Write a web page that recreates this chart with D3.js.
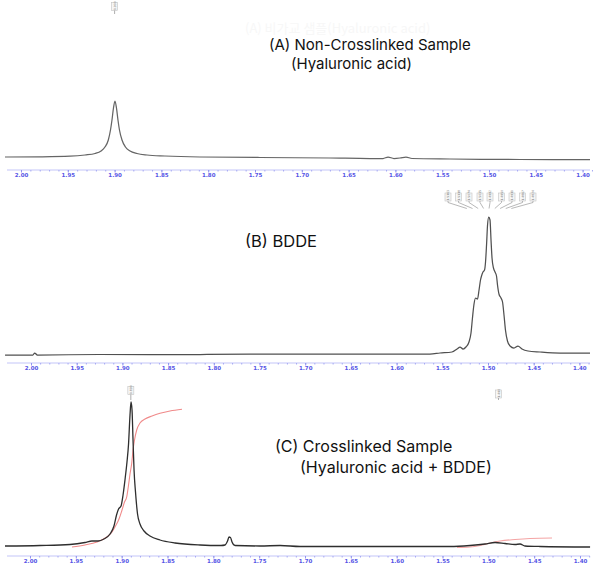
<!DOCTYPE html>
<html>
<head>
<meta charset="utf-8">
<script src="https://cdn.jsdelivr.net/npm/d3@7"></script>
<style>
body { margin:0; background:#fff; }
svg { display:block; }
.title { font-family: Inter, "Noto Sans", sans-serif; fill:#111; }
.ghost { font-family: "Noto Sans CJK KR", Inter, sans-serif; font-size:13px; fill:#f7f7f7; }
.tick-label { font-family: "DejaVu Sans", sans-serif; font-size:5.5px; font-weight:bold; fill:#5555e6; }
.peak-text { font-family: "DejaVu Sans", sans-serif; font-size:3px; fill:#777; }
</style>
</head>
<body>
<script>
// chemical shift ticks (ppm)
var majorTicks = [2.00, 1.95, 1.90, 1.85, 1.80, 1.75, 1.70, 1.65, 1.60, 1.55, 1.50, 1.45, 1.40];
var minorTicks = [];
for (var t = 200; t >= 139; t--) { minorTicks.push(t / 100); }

// (A) hyaluronic acid : [ppm, intensity]
var spectrumA = [
	[2.0171,3],[1.9797,3.2],[1.9476,3.8],[1.9316,5],[1.9209,6.5],[1.9145,9],[1.9103,13],
	[1.9067,20],[1.9044,30],[1.9028,40],[1.9012,52],[1.8996,59],[1.8980,52],[1.8964,40],
	[1.8948,30],[1.8921,20],[1.8884,13],[1.8835,9],[1.8761,6.5],[1.8654,5],[1.8462,4],
	[1.8088,3],[1.7447,2.5],[1.6699,2],[1.6271,1.5],[1.6132,1.5],[1.6079,3],[1.6015,1.5],
	[1.5951,2],[1.5887,3],[1.5823,1.5],[1.5417,1],[1.4669,0.5],[1.3921,0.3]
];

// (B) BDDE
var spectrumB = [
	[2.0284,1],[1.9980,1],[1.9960,3],[1.9930,1],[1.9250,1.5],[1.8150,1.5],[1.7060,2],
	[1.5960,2],[1.5635,2],[1.5525,3],[1.5394,4],[1.5339,7],[1.5306,9],[1.5273,7],
	[1.5241,9],[1.5208,14],[1.5186,23],[1.5170,38],[1.5153,52],[1.5137,58],[1.5115,57],
	[1.5098,66],[1.5082,76],[1.5071,80],[1.5055,84],[1.5038,86],[1.5027,94],[1.5016,111],
	[1.5005,131],[1.4992,139],[1.4978,136],[1.4967,116],[1.4956,98],[1.4940,88],[1.4923,84],
	[1.4907,80],[1.4896,71],[1.4880,62],[1.4858,58],[1.4841,54],[1.4825,41],[1.4809,26],
	[1.4787,15],[1.4759,10],[1.4716,8],[1.4672,10],[1.4628,7],[1.4562,5],[1.4431,4],
	[1.4212,3],[1.3884,3]
];

// (C) crosslinked sample
var spectrumC = [
	[2.0273,2],[1.9891,2.5],[1.9564,3.5],[1.9400,5.5],[1.9324,7],[1.9258,7],[1.9193,9],
	[1.9127,14],[1.9084,22],[1.9056,33],[1.9034,39],[1.9007,42],[1.8985,53],[1.8964,68],
	[1.8942,86],[1.8925,104],[1.8909,133],[1.8898,146],[1.8887,138],[1.8876,108],[1.8865,78],
	[1.8849,56],[1.8827,34],[1.8800,24],[1.8756,17],[1.8691,12],[1.8582,8],[1.8418,5],
	[1.8145,3],[1.7916,2.5],[1.7873,3],[1.7845,7],[1.7829,11],[1.7813,10.5],[1.7796,6],
	[1.7763,2.5],[1.7491,2],[1.7272,2.5],[1.7054,1.5],[1.5963,1.5],[1.5418,1.5],[1.5200,2.5],
	[1.5036,4],[1.4927,5.5],[1.4818,4.5],[1.4709,3.5],[1.4654,4],[1.4600,2],[1.4436,1.5],
	[1.3890,1]
];

// integral curves of (C)
var integralC1 = [
	[1.9542,1],[1.9400,3],[1.9269,6],[1.9171,10.5],[1.9105,16],[1.9073,21],[1.9029,29],
	[1.8996,38],[1.8969,46],[1.8945,51],[1.8925,63],[1.8909,74],[1.8890,85],[1.8876,98],
	[1.8860,108],[1.8836,118],[1.8800,125],[1.8745,129],[1.8669,132],[1.8582,134.7],
	[1.8473,137],[1.8342,138.7]
];
var integralC2 = [
	[1.5341,0.5],[1.5200,1],[1.5090,2.5],[1.4981,5],[1.4872,7],[1.4709,8.5],[1.4545,9.5],[1.4305,10]
];

// peak picking labels
var peaksA = [1.900];
var peaksB = [1.5163, 1.5118, 1.5074, 1.5035, 1.4992, 1.4950, 1.4911, 1.4867, 1.4824];
var peaksC = [1.890, 1.490];

var titlesA = ["(A) Non-Crosslinked Sample", "(Hyaluronic acid)"];
var titlesB = ["(B) BDDE"];
var titlesC = ["(C) Crosslinked Sample", "(Hyaluronic acid + BDDE)"];

var width = 595, height = 567;
var svg = d3.select("body").append("svg")
	.attr("width", width)
	.attr("height", height);

// faint leftover text behind panel A
svg.append("text")
	.attr("class", "ghost")
	.attr("x", 245)
	.attr("y", 33)
	.text("(A) 비가교 샘플(Hyaluronic acid)");

function drawAxis(xScale, axisY)
{
	var g = svg.append("g").attr("class", "axis");
	g.append("line")
		.attr("x1", 7).attr("x2", 590)
		.attr("y1", axisY).attr("y2", axisY)
		.attr("stroke", "#c3c5f8")
		.attr("stroke-width", 1);

	var minor = d3.axisBottom(xScale)
		.tickValues(minorTicks)
		.tickSize(1.5)
		.tickFormat("");
	var gMinor = g.append("g")
		.attr("transform", "translate(0," + axisY + ")")
		.call(minor);
	gMinor.select(".domain").remove();
	gMinor.selectAll("line").attr("stroke", "#a6a9f3");

	var major = d3.axisBottom(xScale)
		.tickValues(majorTicks)
		.tickSize(2.5)
		.tickPadding(1)
		.tickFormat(d3.format(".2f"));
	var gMajor = g.append("g")
		.attr("transform", "translate(0," + axisY + ")")
		.call(major);
	gMajor.select(".domain").remove();
	gMajor.selectAll("line").attr("stroke", "#9094f0");
	gMajor.selectAll("text")
		.attr("class", "tick-label")
		.attr("font-size", null)
		.attr("font-family", null)
		.attr("fill", null);
}

function drawSpectrum(data, xScale, yScale, color, widthPx)
{
	var line = d3.line()
		.x(function(d){ return xScale(d[0]); })
		.y(function(d){ return yScale(d[1]); })
		.curve(d3.curveMonotoneX);
	svg.append("path")
		.datum(data)
		.attr("d", line)
		.attr("fill", "none")
		.attr("stroke", color)
		.attr("stroke-width", widthPx)
		.attr("stroke-linejoin", "round");
}

function drawPeakLabel(px, boxTop, tipY, txt)
{
	var g = svg.append("g");
	g.append("rect")
		.attr("x", px - 3).attr("y", boxTop)
		.attr("width", 6).attr("height", 8)
		.attr("fill", "#f6f6f6")
		.attr("stroke", "#c4c4c4")
		.attr("stroke-width", 0.6);
	g.append("text")
		.attr("class", "peak-text")
		.attr("transform", "translate(" + (px + 1) + "," + (boxTop + 7.5) + ") rotate(-90)")
		.text(txt);
	g.append("line")
		.attr("x1", px).attr("x2", px)
		.attr("y1", boxTop + 8).attr("y2", tipY)
		.attr("stroke", "#999")
		.attr("stroke-width", 0.8);
}

function drawTitles(lines, positions, size)
{
	for (var i = 0; i < lines.length; i++)
	{
		svg.append("text")
			.attr("class", "title")
			.attr("x", positions[i][0])
			.attr("y", positions[i][1])
			.attr("font-size", size + "px")
			.text(lines[i]);
	}
}

// ---- panel A
var xA = d3.scaleLinear().domain([2.00, 1.40]).range([21, 582.6]);
var yA = d3.scaleLinear().domain([0, 60]).range([160, 100]);
drawAxis(xA, 170);
drawSpectrum(spectrumA, xA, yA, "#656565", 1.25);
peaksA.forEach(function(p){ drawPeakLabel(xA(p), 2.5, 14, p.toFixed(3)); });
drawTitles(titlesA, [[269, 50], [291, 69]], 15);

// ---- panel B
var xB = d3.scaleLinear().domain([2.00, 1.40]).range([31, 579.4]);
var yB = d3.scaleLinear().domain([0, 140]).range([356, 216]);
drawAxis(xB, 363);
drawSpectrum(spectrumB, xB, yB, "#505050", 1.25);
var labelXs = [448, 458.5, 469, 480, 490, 501.5, 512, 522.5, 533];
peaksB.forEach(function(p, i){
	var lx = labelXs[i];
	var g = svg.append("g");
	g.append("rect")
		.attr("x", lx - 3).attr("y", 193)
		.attr("width", 6).attr("height", 8)
		.attr("fill", "#f6f6f6")
		.attr("stroke", "#c4c4c4")
		.attr("stroke-width", 0.6);
	g.append("text")
		.attr("class", "peak-text")
		.attr("transform", "translate(" + (lx + 1) + "," + 200.5 + ") rotate(-90)")
		.text(p.toFixed(4));
	g.append("path")
		.attr("d", "M" + lx + ",201 L" + lx + ",202.5 L" + (xB(p) + (lx - xB(p)) * 0.25) + ",208.5")
		.attr("fill", "none")
		.attr("stroke", "#999")
		.attr("stroke-width", 0.7);
});
drawTitles(titlesB, [[245, 247]], 16.5);

// ---- panel C
var xC = d3.scaleLinear().domain([2.00, 1.40]).range([30, 580]);
var yC = d3.scaleLinear().domain([0, 150]).range([548, 398]);
drawAxis(xC, 556);
drawSpectrum(integralC1, xC, yC, "#f08a8a", 1.1);
drawSpectrum(integralC2, xC, yC, "#f4a4a4", 1.1);
drawSpectrum(spectrumC, xC, yC, "#2e2e2e", 1.3);
drawPeakLabel(xC(peaksC[0]), 386.5, 400, peaksC[0].toFixed(3));
drawPeakLabel(xC(peaksC[1]) + 1, 390, 400, peaksC[1].toFixed(3));
drawTitles(titlesC, [[275, 452], [300, 473]], 16);
</script>
</body>
</html>
